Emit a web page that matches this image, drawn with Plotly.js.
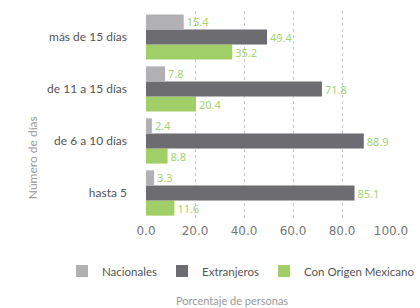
<!DOCTYPE html>
<html><head><meta charset="utf-8">
<script src="https://cdn.plot.ly/plotly-3.0.1.min.js"></script>
<style>body{margin:0;background:#fff}#c{width:420px;height:308px}</style>
</head><body><div id="c"></div>
<script>
const categories = ['hasta 5', 'de 6 a 10 días', 'de 11 a 15 días', 'más de 15 días'];
const nacionales = [3.3, 2.4, 7.8, 15.4];
const extranjeros = [85.1, 88.9, 71.8, 49.4];
const conOrigen = [11.6, 8.8, 20.4, 35.2];
const xTicks = [0, 20, 40, 60, 80, 100];

const labelFont = {family: 'Noto Sans, sans-serif', size: 11, color: '#a6d273'};
function tr(name, vals, color) {
  return {type: 'bar', orientation: 'h', name: name, y: categories, x: vals,
    marker: {color: color}, text: vals.map(v => v.toFixed(1)), textposition: 'outside',
    textfont: labelFont, cliponaxis: false, hoverinfo: 'skip'};
}
const data = [
  tr('Con Origen Mexicano', conOrigen, '#a0cf67'),
  tr('Extranjeros', extranjeros, '#6d6c71'),
  tr('Nacionales', nacionales, '#b1b1b4')
];
const layout = {
  width: 420, height: 308,
  margin: {l: 146, r: 29, t: 11, b: 89},
  paper_bgcolor: '#fff', plot_bgcolor: '#fff',
  barmode: 'group', bargap: 0.13, bargroupgap: 0,
  showlegend: true,
  legend: {orientation: 'h', traceorder: 'reversed', x: -0.325, xanchor: 'left', y: -0.25, yanchor: 'middle',
    font: {family: 'Lato, sans-serif', size: 11.5, color: '#555'}},
  xaxis: {range: [0, 100], tickvals: xTicks, ticktext: xTicks.map(v => v.toFixed(1)),
    showgrid: true, gridcolor: '#c8c8c8', griddash: 'dot', gridwidth: 1, zeroline: false,
    showline: false, ticks: '', ticklabelstandoff: 3,
    tickfont: {family: 'DejaVu Sans, sans-serif', size: 12, color: '#777'}},
  yaxis: {showgrid: false, zeroline: false, showline: false, ticks: '', ticklabelstandoff: 18,
    tickfont: {family: 'Lato, sans-serif', size: 12, color: '#555'}},
  annotations: [
    {text: 'Porcentaje de personas', xref: 'paper', yref: 'paper', x: 0.351, y: -0.394,
      xanchor: 'center', yanchor: 'middle',
      showarrow: false, font: {family: 'Lato, sans-serif', size: 11, color: '#999'}},
    {text: 'Número de días', xref: 'paper', yref: 'paper', x: -0.465, y: 0.293, textangle: -90,
      xanchor: 'center', yanchor: 'middle',
      showarrow: false, font: {family: 'Lato, sans-serif', size: 12, color: '#999'}}
  ]
};
Plotly.newPlot('c', data, layout, {displayModeBar: false, staticPlot: true});
</script></body></html>
